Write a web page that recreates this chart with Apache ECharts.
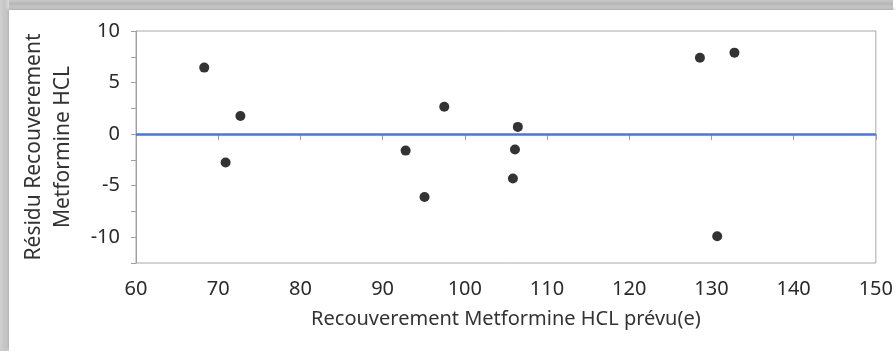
<!DOCTYPE html>
<html>
<head>
<meta charset="utf-8">
<script src="https://cdn.jsdelivr.net/npm/echarts@6/dist/echarts.min.js"></script>
<style>
  html, body { margin: 0; padding: 0; background: #fff; }
  #outer { position: absolute; left: 0; top: 0; width: 893px; height: 351px;
    background: linear-gradient(to bottom, #c9c9c9 0px, #b5b5b5 4px, #d6d6d6 9px, #d8d8d8 100%); }
  #left { position: absolute; left: 0; top: 0; width: 9px; height: 351px;
    background: linear-gradient(to right, #d0d0d0 0px, #c4c4c4 5px, #dcdcdc 9px); }
  #chart { position: absolute; left: 9px; top: 10px; width: 887px; height: 341px; background: #fff;
    box-shadow: -1px -1px 3px rgba(0,0,0,0.25); }
</style>
</head>
<body>
<div id="outer"></div>
<div id="left"></div>
<div id="chart"></div>
<script>
// Predicted recovery (x) and residual (y)
const predicted = [68.3, 70.9, 72.7, 92.8, 95.1, 97.5, 105.85, 106.1, 106.45, 128.6, 130.7, 132.8];
const residuals = [6.45, -2.75, 1.75, -1.6, -6.1, 2.65, -4.3, -1.5, 0.7, 7.4, -9.9, 7.9];
const xTicks = [60, 70, 80, 90, 100, 110, 120, 130, 140, 150];
const yTicks = [-10, -5, 0, 5, 10];
const xTitle = 'Recouverement Metformine HCL prévu(e)';
const yTitle = 'Résidu Recouverement\nMetformine HCL';

const points = predicted.map((x, i) => [x, residuals[i]]);
const font = 'Noto Sans';
const chart = echarts.init(document.getElementById('chart'), null, { renderer: 'canvas' });
chart.setOption({
  animation: false,
  backgroundColor: '#fff',
  grid: { left: 127, top: 21, right: 19, bottom: 88, show: true, borderColor: '#a9a9a9', borderWidth: 1, backgroundColor: 'transparent' },
  xAxis: {
    type: 'value', min: xTicks[0], max: xTicks[xTicks.length - 1], interval: 10,
    name: xTitle, nameLocation: 'middle', nameGap: 46,
    nameTextStyle: { fontFamily: font, fontSize: 20, color: '#333' },
    axisLine: { show: true, lineStyle: { color: '#a0a0a0', width: 1 } },
    axisTick: { show: true, length: 6, lineStyle: { color: '#a0a0a0' } },
    axisLabel: { fontFamily: font, fontSize: 20, color: '#2a2a2a', margin: 16,
      formatter: v => xTicks.includes(v) ? String(v) : '' },
    splitLine: { show: false }
  },
  yAxis: {
    type: 'value', min: -12.5, max: yTicks[yTicks.length - 1], interval: 2.5,
    name: yTitle, nameLocation: 'middle', nameGap: 58, nameRotate: 90,
    nameTextStyle: { fontFamily: font, fontSize: 21, color: '#333', lineHeight: 29 },
    axisLine: { show: true, lineStyle: { color: '#a0a0a0', width: 1 } },
    axisTick: { show: true, length: 5, lineStyle: { color: '#a0a0a0' } },
    axisLabel: { fontFamily: font, fontSize: 20, color: '#2a2a2a', margin: 16,
      formatter: v => yTicks.includes(v) ? String(v) : '' },
    splitLine: { show: false }
  },
  series: [{
    type: 'scatter',
    data: points,
    symbol: 'circle',
    symbolSize: 10,
    itemStyle: { color: '#000' },
    markLine: {
      silent: true, symbol: ['none', 'none'], label: { show: false },
      lineStyle: { color: '#4274f2', width: 2.5, type: 'solid' },
      data: [{ yAxis: 0 }]
    }
  }]
});
</script>
</body>
</html>
